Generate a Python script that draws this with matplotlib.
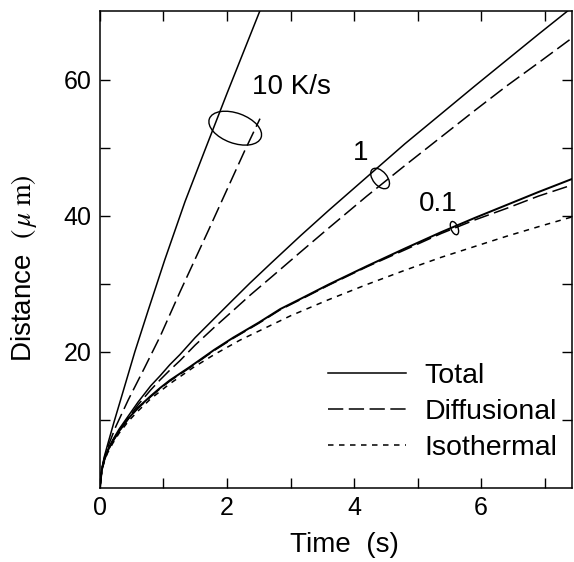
import matplotlib
matplotlib.use("Agg")
import matplotlib.pyplot as plt
from matplotlib.patches import Ellipse
from matplotlib.transforms import ScaledTranslation

plt.rcParams['font.family'] = ['Liberation Sans', 'DejaVu Sans']
plt.rcParams['mathtext.fontset'] = 'stix'

# ---- data ----
t_10_total = [0, 0.03, 0.07, 0.12, 0.22, 0.36, 0.55, 0.76, 1.02, 1.34, 1.65, 2.0, 2.52]
d_10_total = [0, 2.8, 4.6, 6.3, 9.6, 14.0, 20.0, 26.1, 33.5, 42.1, 49.6, 58.0, 70.2]

t_10_diff = [0, 0.03, 0.07, 0.12, 0.25, 0.45, 0.7, 0.95, 1.26, 1.71, 2.28, 2.52]
d_10_diff = [0, 2.7, 4.4, 5.9, 9.0, 13.0, 17.6, 22.3, 28.8, 37.9, 49.6, 54.3]

t_1 = [0, 0.03, 0.07, 0.12, 0.2, 0.3, 0.45, 0.6, 0.8, 0.95, 1.1, 1.26, 1.5, 1.8,
       2.1, 2.36, 2.7, 3.16, 3.6, 4.2, 4.8, 5.37, 5.9, 6.4, 6.9, 7.45]
d_1_total = [0, 2.6, 4.2, 5.5, 7.0, 8.6, 10.6, 12.6, 15.0, 16.5, 18.1, 19.6, 22.1, 24.9,
             27.7, 30.1, 33.1, 37.1, 40.8, 45.7, 50.6, 55.0, 59.1, 62.9, 66.7, 70.8]
d_1_diff = [0, 2.6, 4.2, 5.5, 6.9, 8.4, 10.3, 12.2, 14.4, 15.9, 17.3, 18.7, 21.0, 23.6,
            26.1, 28.3, 31.0, 34.7, 38.2, 42.9, 47.4, 51.6, 55.5, 59.1, 62.5, 66.3]

t_01 = [0, 0.03, 0.07, 0.12, 0.2, 0.3, 0.45, 0.6, 0.8, 0.95, 1.1, 1.42, 1.8, 2.1,
        2.5, 2.84, 3.16, 3.6, 4.2, 4.8, 5.37, 5.9, 6.4, 6.9, 7.45]
d_01_total = [0, 2.6, 4.1, 5.4, 6.8, 8.3, 10.2, 11.8, 13.5, 14.7, 15.8, 17.8, 20.3, 22.1,
              24.3, 26.3, 27.8, 29.9, 32.6, 35.2, 37.6, 39.7, 41.6, 43.5, 45.5]
d_01_diff = [0, 2.6, 4.1, 5.4, 6.8, 8.3, 10.2, 11.7, 13.4, 14.6, 15.7, 17.7, 20.2, 22.0,
             24.2, 26.2, 27.7, 29.8, 32.5, 35.0, 37.4, 39.4, 41.1, 42.9, 44.6]

t_iso = [0, 0.03, 0.07, 0.12, 0.2, 0.3, 0.45, 0.6, 0.8, 1.1, 1.47, 1.8, 2.2, 2.6,
         3.0, 3.58, 4.2, 4.8, 5.37, 5.9, 6.4, 6.9, 7.45]
d_iso = [0, 2.5, 3.9, 5.1, 6.5, 8.0, 9.8, 11.3, 13.1, 15.3, 17.7, 19.6, 21.7, 23.5,
         25.3, 27.6, 29.9, 32.0, 33.9, 35.5, 37.0, 38.4, 39.9]

rate_labels = ["10 K/s", "1", "0.1"]
legend_labels = ["Total", "Diffusional", "Isothermal"]

# ---- figure ----
fig = plt.figure(figsize=(5.74, 5.62), dpi=100)
ax = fig.add_axes([0.174, 0.132, 0.8225, 0.848])

lw = 1.1
dash = (0, (10, 3.6))
dot = (0, (3.6, 3.6))

h_tot, = ax.plot(t_10_total, d_10_total, color='black', lw=lw, ls='-')
h_dif, = ax.plot(t_10_diff, d_10_diff, color='black', lw=lw, ls=dash)
ax.plot(t_1, d_1_total, color='black', lw=lw, ls='-')
ax.plot(t_1, d_1_diff, color='black', lw=lw, ls=dash)
ax.plot(t_01, d_01_total, color='black', lw=lw * 1.3, ls='-')
ax.plot(t_01, d_01_diff, color='black', lw=lw, ls=dash)
h_iso, = ax.plot(t_iso, d_iso, color='black', lw=lw, ls=dot)

ax.set_xlim(0, 7.43)
ax.set_ylim(0, 70.1)

ax.tick_params(which='both', direction='in', top=True, right=True,
               length=7, width=1.0, labelsize=18, pad=6)
ax.set_xticks([0, 2, 4, 6])
ax.set_xticks([1, 3, 5, 7], minor=True)
ax.set_yticks([20, 40, 60])
ax.set_yticks([10, 30, 50], minor=True)
for s in ax.spines.values():
    s.set_linewidth(1.1)

ax.set_xlabel("Time  (s)", fontsize=20)
ax.xaxis.set_label_coords(0.517, -0.092)
ax.set_ylabel(r"Distance  $(\,\mu\;\mathrm{m})$", fontsize=20)
ax.yaxis.set_label_coords(-0.128, 0.46)

# rate annotations
ax.text(3.02, 58.9, rate_labels[0], fontsize=20, ha='center', va='center')
ax.text(4.1, 49.2, rate_labels[1], fontsize=20, ha='center', va='center')
ax.text(5.33, 41.8, rate_labels[2], fontsize=20, ha='center', va='center')

def ring(cx, cy, w, h, ang):
    tr = fig.dpi_scale_trans + ScaledTranslation(cx, cy, ax.transData)
    ax.add_patch(Ellipse((0, 0), w, h, angle=ang, fill=False,
                         edgecolor='black', lw=1.0, transform=tr))

ring(2.13, 52.9, 0.55, 0.30, -20)
ring(4.41, 45.5, 0.24, 0.14, -50)
ring(5.58, 38.2, 0.14, 0.07, -68)

leg = ax.legend([h_tot, h_dif, h_iso], legend_labels, loc='upper left',
                bbox_to_anchor=(0.483, 0.262), frameon=False, fontsize=20.5,
                handlelength=2.75, handletextpad=0.65, labelspacing=0.35,
                borderpad=0, borderaxespad=0)

fig.savefig("out.png", dpi=100)
